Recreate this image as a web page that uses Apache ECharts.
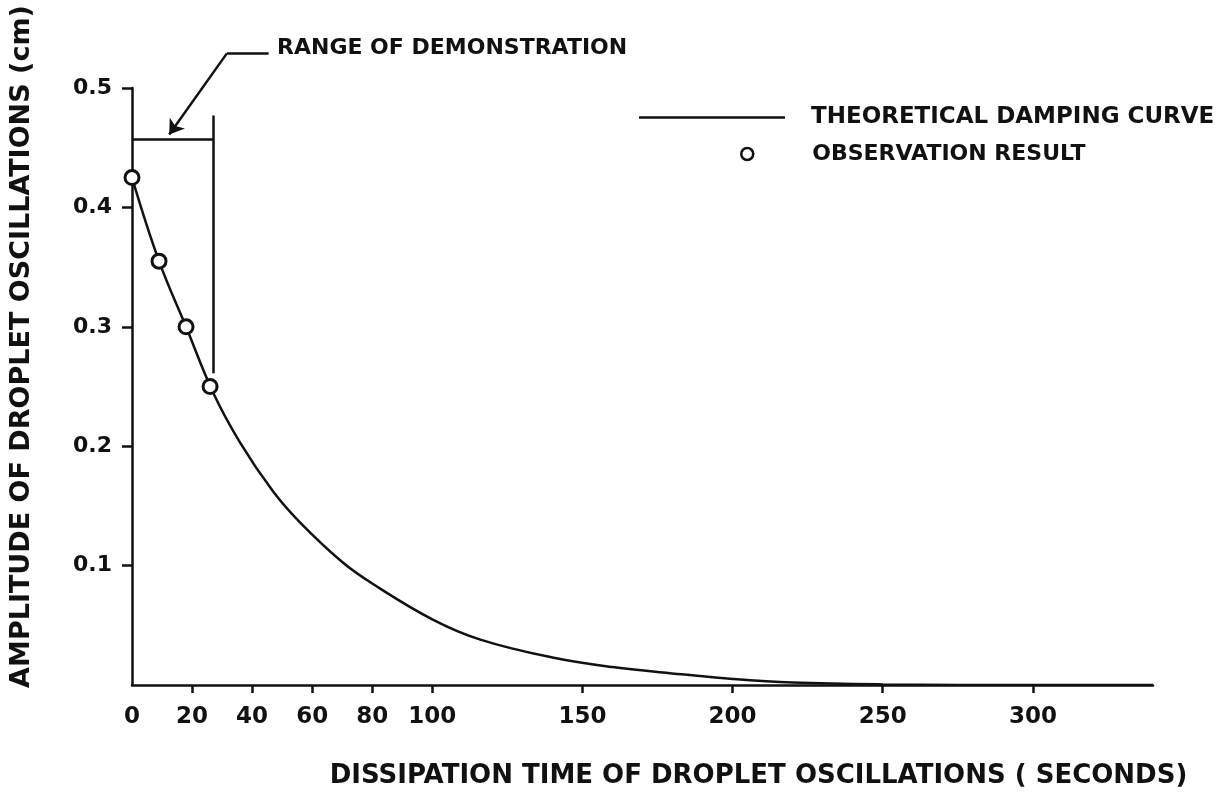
<!DOCTYPE html>
<html>
<head>
<meta charset="utf-8">
<title>Droplet oscillation damping</title>
<script src="https://cdn.jsdelivr.net/npm/echarts@6/dist/echarts.min.js"></script>
<style>
  html, body { margin: 0; padding: 0; background: #fff; }
  #chart { width: 1219px; height: 801px; }
</style>
</head>
<body>
<div id="chart"></div>
<script>
// theoretical damping curve (seconds, cm)
const curveTime = [0, 9, 18, 27, 36, 47, 56, 70, 80, 100, 116, 140, 160, 183, 200, 220, 250, 300, 340];
const curveAmp = [0.425, 0.355, 0.30, 0.245, 0.203, 0.162, 0.136, 0.103, 0.085, 0.055, 0.038, 0.023, 0.015, 0.009, 0.005, 0.002, 0.0005, 0, 0];

// observation results
const obsTime = [0, 9, 18, 26];
const obsAmp = [0.425, 0.355, 0.30, 0.25];

// tick labels
const xTicks = [0, 20, 40, 60, 80, 100, 150, 200, 250, 300];
const yTicks = [0.1, 0.2, 0.3, 0.4, 0.5];

const FONT = 'DejaVu Sans';
const INK = '#111';

const chart = echarts.init(document.getElementById('chart'), null, { renderer: 'canvas' });

const pair = (xs, ys) => xs.map((x, i) => [x, ys[i]]);

chart.setOption({
  backgroundColor: '#fff',
  animation: false,
  grid: { left: 132, right: 66, top: 88, bottom: 116 },
  legend: [
    {
      data: ['THEORETICAL DAMPING CURVE'],
      left: 639, top: 106, padding: 0,
      icon: 'rect',
      itemWidth: 146, itemHeight: 2.5,
      selectedMode: false,
      textStyle: { fontFamily: FONT, fontWeight: 'bold', fontSize: 23, color: INK, padding: [0, 0, 0, 21] }
    },
    {
      data: ['OBSERVATION RESULT'],
      left: 740, top: 143, padding: 0,
      itemWidth: 12, itemHeight: 12,
      selectedMode: false,
      itemStyle: { color: '#fff', opacity: 1, borderColor: INK, borderWidth: 2.5 },
      textStyle: { fontFamily: FONT, fontWeight: 'bold', fontSize: 22, color: INK, padding: [0, 0, 0, 54] }
    }
  ],
  xAxis: {
    type: 'value',
    min: 0, max: 340,
    name: 'DISSIPATION TIME OF DROPLET OSCILLATIONS ( SECONDS)',
    nameLocation: 'middle',
    nameGap: 78,
    nameTextStyle: { fontFamily: FONT, fontWeight: 'bold', fontSize: 26, color: INK, padding: [0, 0, 0, 232] },
    axisLine: { lineStyle: { color: INK, width: 2.5 } },
    axisTick: { show: true, length: 8, lineStyle: { color: INK, width: 2.5 }, customValues: xTicks.slice(1) },
    axisLabel: { customValues: xTicks, margin: 21, fontFamily: FONT, fontWeight: 'bold', fontSize: 23, color: INK },
    splitLine: { show: false }
  },
  yAxis: {
    type: 'value',
    min: 0, max: 0.5, interval: 0.1,
    name: 'AMPLITUDE OF DROPLET OSCILLATIONS (cm)',
    nameLocation: 'middle',
    nameRotate: 90,
    nameGap: 97,
    nameTextStyle: { fontFamily: FONT, fontWeight: 'bold', fontSize: 27, color: INK, padding: [0, 0, 0, 80] },
    axisLine: { lineStyle: { color: INK, width: 2.5 } },
    axisTick: { show: true, length: 10, lineStyle: { color: INK, width: 2.5 }, customValues: yTicks },
    axisLabel: {
      customValues: yTicks, margin: 20,
      fontFamily: FONT, fontWeight: 'bold', fontSize: 22, color: INK,
      formatter: v => v.toFixed(1)
    },
    splitLine: { show: false }
  },
  graphic: [
    {
      type: 'text', left: 277, top: 37,
      style: { text: 'RANGE OF DEMONSTRATION', font: 'bold 22px "DejaVu Sans"', fill: INK }
    }
  ],
  series: [
    {
      name: 'THEORETICAL DAMPING CURVE',
      type: 'line',
      data: pair(curveTime, curveAmp),
      smooth: 0.4,
      symbol: 'none',
      lineStyle: { color: INK, width: 2.5 },
      itemStyle: { color: INK },
      z: 2
    },
    {
      name: 'OBSERVATION RESULT',
      type: 'scatter',
      data: pair(obsTime, obsAmp),
      symbol: 'circle',
      symbolSize: 14,
      itemStyle: { color: '#fff', borderColor: INK, borderWidth: 3, opacity: 1 },
      z: 4
    },
    {
      // bracket marking the range of demonstration
      name: 'range',
      type: 'line',
      data: [],
      markLine: {
        silent: true,
        symbol: 'none',
        label: { show: false },
        lineStyle: { color: INK, width: 2.5, type: 'solid' },
        data: [
          [{ coord: [0, 0.457] }, { coord: [27, 0.457] }],
          [{ coord: [27, 0.477] }, { coord: [27, 0.261] }]
        ]
      }
    },
    {
      // short dash in front of the label
      name: 'leader',
      type: 'lines',
      coordinateSystem: 'cartesian2d',
      clip: false,
      silent: true,
      symbol: 'none',
      lineStyle: { color: INK, width: 2.5, opacity: 1 },
      data: [{ coords: [[45.5, 0.529], [31.6, 0.529]] }]
    },
    {
      // arrow down to the bracket
      name: 'arrow',
      type: 'lines',
      coordinateSystem: 'cartesian2d',
      clip: false,
      silent: true,
      symbol: ['none', 'arrow'],
      symbolSize: 14,
      lineStyle: { color: INK, width: 2.5, opacity: 1 },
      data: [{ coords: [[31.6, 0.529], [12.4, 0.461]] }]
    }
  ]
});
</script>
</body>
</html>
